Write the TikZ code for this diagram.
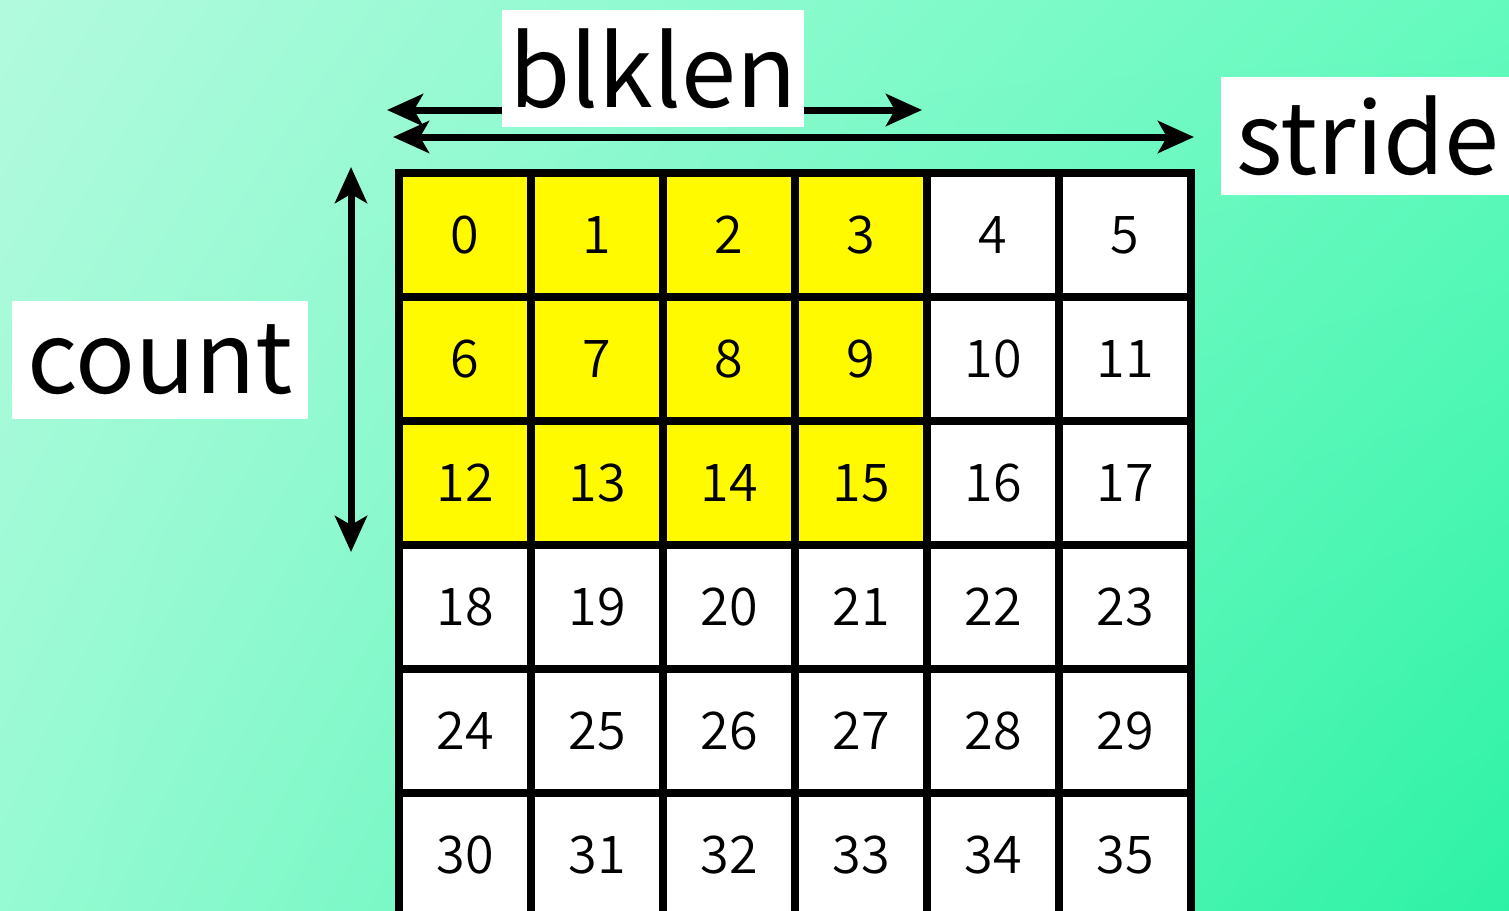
\documentclass[tikz,border=0pt]{standalone}
\usepackage{fontspec}
\setmainfont{Noto Sans CJK JP}
\IfFontExistsTF{Noto Sans CJK JP DemiLight}
  {\newfontfamily\digitfont{Noto Sans CJK JP DemiLight}}
  {\newfontfamily\digitfont{Noto Sans CJK JP Light}}
\usetikzlibrary{arrows.meta,shadings}
\definecolor{bgUL}{RGB}{178,250,222}
\definecolor{bgUR}{RGB}{100,250,190}
\definecolor{bgLL}{RGB}{150,250,210}
\definecolor{bgLR}{RGB}{45,242,165}
\definecolor{hlyellow}{RGB}{255,250,0}
\begin{document}
\begin{tikzpicture}[x=1pt,y=-1pt,
  cell/.style={draw=black, line width=7.5pt, minimum width=132pt, minimum height=124pt,
    inner sep=0pt, fill=white, font=\digitfont\fontsize{52}{52}\selectfont},
  hl/.style={fill=hlyellow},
  lbl/.style={fill=white, inner sep=0pt, font=\fontsize{99}{99}\selectfont},
  dimarrow/.style={line width=7pt,
    {Stealth[length=36pt,width=32pt,inset=9pt]}-{Stealth[length=36pt,width=32pt,inset=9pt]}}]
\useasboundingbox (0,0) rectangle (1509,910);
\clip (0,0) rectangle (1509,910);
\shade[upper left=bgUL, upper right=bgUR, lower left=bgLL, lower right=bgLR] (0,0) rectangle (1509,910);
% grid
\foreach \r in {0,...,5}{
  \foreach \c in {0,...,5}{
    \pgfmathtruncatemacro{\n}{6*\r+\c}
    \pgfmathtruncatemacro{\ishl}{(\r<3)&&(\c<4)}
    \ifnum\ishl=1
      \node[cell,hl] (c\n) at (465+132*\c, 235+124*\r) {\n};
    \else
      \node[cell] (c\n) at (465+132*\c, 235+124*\r) {\n};
    \fi
  }
}
% dimension arrows
\coordinate (blkL) at (387,110);
\coordinate (blkR) at (922,110);
\coordinate (strL) at (393,137);
\coordinate (strR) at (1194,137);
\coordinate (cntT) at (351,167);
\coordinate (cntB) at (351,552);
\draw[dimarrow] (blkL) -- (blkR);
\draw[dimarrow] (strL) -- (strR);
\draw[dimarrow] (cntT) -- (cntB);
% labels
\node[lbl, minimum width=302pt, minimum height=117pt] (blklen) at (653,68.5) {blklen};
\node[lbl, minimum width=294pt, minimum height=118pt] (stride) at (1368,136) {stride};
\node[lbl, minimum width=296pt, minimum height=118pt] (count) at (160,360) {count};
\end{tikzpicture}
\end{document}
